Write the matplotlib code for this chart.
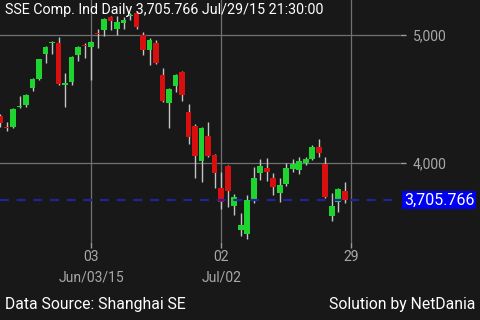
import matplotlib
matplotlib.use("Agg")
import matplotlib.pyplot as plt
import numpy as np

plt.rcParams['font.family'] = ['Roboto', 'DejaVu Sans']

# Daily candles (open, high, low, close)
opens = [4366, 4280, 4280, 4436, 4452, 4585, 4655, 4851, 4934, 4937,
         4612, 4632, 4843, 4918, 4906, 5012, 5039, 5141, 5047, 5094,
         5149, 5172, 5000, 4883, 4937, 4687, 4467, 4601, 4710, 4397,
         4287, 4013, 4209, 4060, 3802, 3974, 3661, 3473, 3442, 3716,
         3919, 3959, 3880, 3763, 3833, 3951, 3943, 3998, 4029, 4123,
         3990, 3583, 3692, 3778]
highs = [4380, 4319, 4428, 4522, 4538, 4660, 4815, 4910, 4953, 4984,
         4702, 4832, 4910, 4937, 4953, 5047, 5130, 5149, 5149, 5141,
         5172, 5178, 5023, 4976, 4961, 4742, 4582, 4692, 4718, 4460,
         4303, 4280, 4319, 4066, 3927, 3980, 3755, 3606, 3747, 3966,
         4029, 4037, 3919, 3880, 3998, 4029, 4045, 4045, 4139, 4186,
         4045, 3763, 3802, 3849]
lows = [4280, 4248, 4272, 4430, 4436, 4561, 4648, 4781, 4851, 4610,
        4436, 4608, 4797, 4820, 4648, 4898, 4992, 5039, 5000, 5047,
        5120, 5047, 4843, 4765, 4775, 4475, 4272, 4554, 4483, 4147,
        3880, 3849, 4045, 3802, 3638, 3653, 3591, 3426, 3403, 3685,
        3865, 3857, 3747, 3692, 3818, 3927, 3912, 3982, 4025, 4045,
        3724, 3544, 3614, 3685]
closes = [4311, 4272, 4421, 4442, 4530, 4655, 4812, 4906, 4940, 4616,
          4618, 4828, 4906, 4912, 4945, 5004, 5125, 5110, 5100, 5117,
          5155, 5063, 4883, 4961, 4781, 4483, 4577, 4687, 4530, 4201,
          4052, 4272, 4052, 3919, 3692, 3778, 3731, 3512, 3708, 3880,
          3974, 3927, 3810, 3826, 3959, 3990, 4013, 4029, 4123, 4076,
          3731, 3661, 3794, 3706]

last_price = 3705.766
tick_pos = [14, 34, 54]
tick_top = ["03", "02", "29"]
tick_bottom = ["Jun/03/15", "Jul/02", ""]
price_ticks = [4000, 5000]

bg = "#181818"
green = "#1ed530"
red = "#d80f0f"

fig = plt.figure(figsize=(4.8, 3.2), dpi=100, facecolor=bg)
ax = fig.add_axes([0, 78 / 320, 400 / 480, 242 / 320], facecolor=bg)

x = np.arange(len(opens))
o = np.array(opens)
c = np.array(closes)
up = c >= o
colors = np.where(up, green, red)

ax.vlines(x, lows, highs, color="#c4c4c4", lw=1, zorder=2)
ax.bar(x, np.maximum(np.abs(c - o), 9), bottom=np.minimum(o, c), width=0.88,
       color=colors, zorder=3, linewidth=0)

# grid
for p in price_ticks:
    ax.axhline(p, color="#707070", lw=0.9, zorder=1)
for t in tick_pos:
    ax.axvline(t, color="#707070", lw=0.9, zorder=1)

ax.axhline(last_price, color="#22229a", lw=1.6, ls=(0, (4, 3.5)), zorder=4)

ax.set_xlim(0, 61.5)
ax.set_ylim(3379, 5274)
for s in ax.spines.values():
    s.set_visible(False)

ax.set_xticks(tick_pos)
ax.set_xticklabels([])
ax.tick_params(axis="x", length=4, width=1, color="#9a9a9a")
for t, a, b in zip(tick_pos, tick_top, tick_bottom):
    ax.text(t, -0.06, a, transform=ax.get_xaxis_transform(), ha="center",
            va="center", color="#a8a8a8", fontsize=10)
    ax.text(t, -0.145, b, transform=ax.get_xaxis_transform(), ha="center",
            va="center", color="#a8a8a8", fontsize=10)

ax.yaxis.tick_right()
ax.set_yticks(price_ticks)
ax.set_yticklabels([f"{p:,}" for p in price_ticks])
ax.tick_params(axis="y", length=4, width=1, color="#9a9a9a", labelcolor="#a8a8a8",
               labelsize=10, pad=5)

ax.text(1.01, last_price, f"{last_price:,.3f}", transform=ax.get_yaxis_transform(),
        ha="left", va="center", color="white", fontsize=11.5,
        bbox=dict(boxstyle="square,pad=0.1", fc="#0000f0", ec="none"))

fig.text(5 / 480, 1 - 10 / 320, "SSE Comp. Ind Daily 3,705.766 Jul/29/15 21:30:00",
         ha="left", va="center", color="white", fontsize=10.3)
fig.text(5 / 480, 15 / 320, "Data Source: Shanghai SE", ha="left", va="center",
         color="white", fontsize=11.3)
fig.text(475 / 480, 15 / 320, "Solution by NetDania", ha="right", va="center",
         color="white", fontsize=11.3)

fig.savefig("out.png", dpi=100, facecolor=bg)
